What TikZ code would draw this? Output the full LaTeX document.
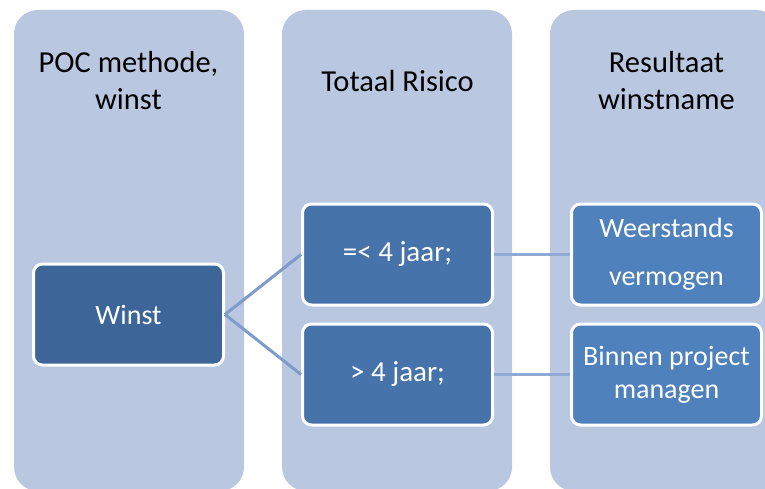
\documentclass[tikz,border=0pt]{standalone}
\usepackage{fontspec}
\setmainfont{Carlito}
\usepackage{tikz}
\usetikzlibrary{arrows}

\definecolor{colbg}{RGB}{185,199,224}
\definecolor{winstfill}{RGB}{61,101,151}
\definecolor{riskfill}{RGB}{70,115,170}
\definecolor{resfill}{RGB}{79,129,189}
\definecolor{diagcol}{RGB}{126,155,203}
\definecolor{flatcol}{RGB}{143,170,212}

\begin{document}
\begin{tikzpicture}[x=1pt,y=-1pt,node distance=269pt]
  \tikzstyle{column}=[fill=colbg,rounded corners=24pt]
  \tikzstyle{header}=[text=black,align=center,font=\fontsize{30.5}{37}\selectfont]
  \tikzstyle{box}=[rectangle,draw=white,line width=3pt,rounded corners=9pt,
                   minimum width=190pt,minimum height=101pt,text=white,
                   align=center,font=\fontsize{28}{33}\selectfont]

  \clip (0,0) rectangle (765,489);
  \fill[column] (14,10)  rectangle (244,491);
  \fill[column] (282,10) rectangle (512,491);
  \fill[column] (550,10) rectangle (780,491);

  \node[header] (poc)                at (128.5,81) {POC methode,\\winst};
  \node[header] (risico) [right of=poc]           {Totaal Risico};
  \node[header] (result) [right of=risico]        {Resultaat\\winstname};

  \node[box,fill=winstfill] (winst) at (128.5,314.5) {Winst};
  \node[box,fill=riskfill,font=\fontsize{29}{33}\selectfont]  (kort)  at (397.5,254.5) {=< 4 jaar;};
  \node[box,fill=riskfill,font=\fontsize{29}{33}\selectfont]  (lang)  [below of=kort,node distance=120pt] {> 4 jaar;};
  \node[box,fill=resfill,font=\fontsize{28}{48}\selectfont] (weerstand) [right of=kort] {Weerstands\\vermogen};
  \node[box,fill=resfill]   (project) [right of=lang] {Binnen project\\managen};

  \draw[diagcol,line width=3pt] (winst.east) -- (kort.west)
                                (winst.east) -- (lang.west);
  \draw[flatcol,line width=3pt] (kort.east) -- (weerstand.west)
                                (lang.east) -- (project.west);
\end{tikzpicture}
\end{document}
